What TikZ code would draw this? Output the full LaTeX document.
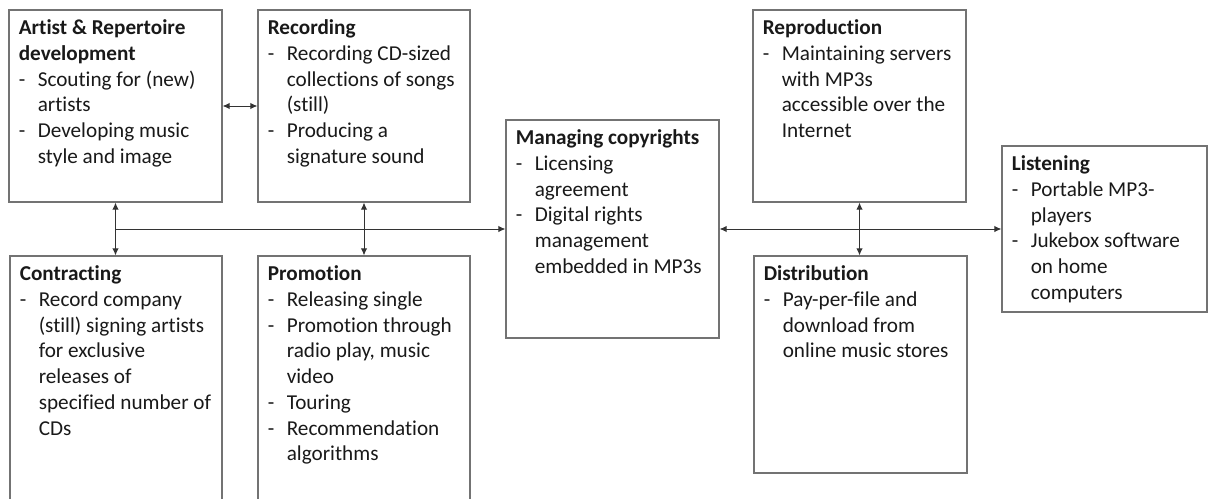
\documentclass[tikz,border=0pt]{standalone}
\usepackage{fontspec}
\setmainfont[Ligatures=CommonOff]{Carlito}
\usetikzlibrary{arrows.meta}
\newcommand{\dl}[1]{\makebox[9.5pt][l]{-}#1}
\newcommand{\cl}[1]{\hspace*{9.5pt}#1}
\newcommand{\ttl}[1]{\rule{0pt}{9pt}\textbf{#1}}
\tikzset{
  box/.style={draw=black!55, line width=0.6pt, inner sep=0pt, rectangle},
  txt/.style={anchor=north west, inner sep=0pt, align=left, text=black!90,
    font=\fontsize{10.6}{12.85}\selectfont, xshift=5pt, yshift=-3.5pt},
  arr/.style={draw=black!80, line width=0.5pt, {Latex[length=3.5pt,width=3.2pt]}-{Latex[length=3.5pt,width=3.2pt]}},
  arrone/.style={draw=black!80, line width=0.5pt, -{Latex[length=3.5pt,width=3.2pt]}}
}
\begin{document}
\begin{tikzpicture}[x=0.5pt,y=-0.5pt]
\useasboundingbox (0,0) rectangle (1208,498);
\clip (0,0) rectangle (1208,498);
% boxes
\node[box, minimum width=106.5pt, minimum height=96pt] (A) at (115.5,106) {};
\node[box, minimum width=106pt, minimum height=96pt] (R) at (364,106) {};
\node[box, minimum width=106pt, minimum height=127pt] (C) at (116,383) {};
\node[box, minimum width=106pt, minimum height=124.5pt] (P) at (364,380.5) {};
\node[box, minimum width=106.5pt, minimum height=109pt] (M) at (612.5,229) {};
\node[box, minimum width=106.5pt, minimum height=96pt] (Re) at (859.5,106) {};
\node[box, minimum width=106.5pt, minimum height=108.5pt] (D) at (860.5,364.5) {};
\node[box, minimum width=102.5pt, minimum height=83pt] (L) at (1104.5,229) {};
% texts
\node[txt] (tA) at (A.north west) {\ttl{Artist \& Repertoire}\\ \textbf{development}\\
  \dl{Scouting for (new)}\\ \cl{artists}\\ \dl{Developing music}\\ \cl{style and image}};
\node[txt] (tR) at (R.north west) {\ttl{Recording}\\ \dl{Recording CD-sized}\\
  \cl{collections of songs}\\ \cl{(still)}\\ \dl{Producing a}\\ \cl{signature sound}};
\node[txt] (tC) at (C.north west) {\ttl{Contracting}\\ \dl{Record company}\\
  \cl{(still) signing artists}\\ \cl{for exclusive}\\ \cl{releases of}\\
  \cl{specified number of}\\ \cl{CDs}};
\node[txt] (tP) at (P.north west) {\ttl{Promotion}\\ \dl{Releasing single}\\
  \dl{Promotion through}\\ \cl{radio play, music}\\ \cl{video}\\ \dl{Touring}\\
  \dl{Recommendation}\\ \cl{algorithms}};
\node[txt] (tM) at (M.north west) {\ttl{Managing copyrights}\\ \dl{Licensing}\\
  \cl{agreement}\\ \dl{Digital rights}\\ \cl{management}\\ \cl{embedded in MP3s}};
\node[txt] (tRe) at (Re.north west) {\ttl{Reproduction}\\ \dl{Maintaining servers}\\
  \cl{with MP3s}\\ \cl{accessible over the}\\ \cl{Internet}};
\node[txt] (tD) at (D.north west) {\ttl{Distribution}\\ \dl{Pay-per-file and}\\
  \cl{download from}\\ \cl{online music stores}};
\node[txt] (tL) at (L.north west) {\ttl{Listening}\\ \dl{Portable MP3-}\\
  \cl{players}\\ \dl{Jukebox software}\\ \cl{on home}\\ \cl{computers}};
% connectors
\draw[arr] (A.east) -- (R.west);
\draw[arr] (A.south) -- (A.south |- C.north);
\draw[arr] (R.south) -- (R.south |- P.north);
\draw[arr] (Re.south) -- (Re.south |- D.north);
\coordinate (jl) at (A.south |- M.west);
\draw[arrone] (jl) -- (M.west);
\draw[arr] (M.east) -- (L.west);
\end{tikzpicture}
\end{document}
